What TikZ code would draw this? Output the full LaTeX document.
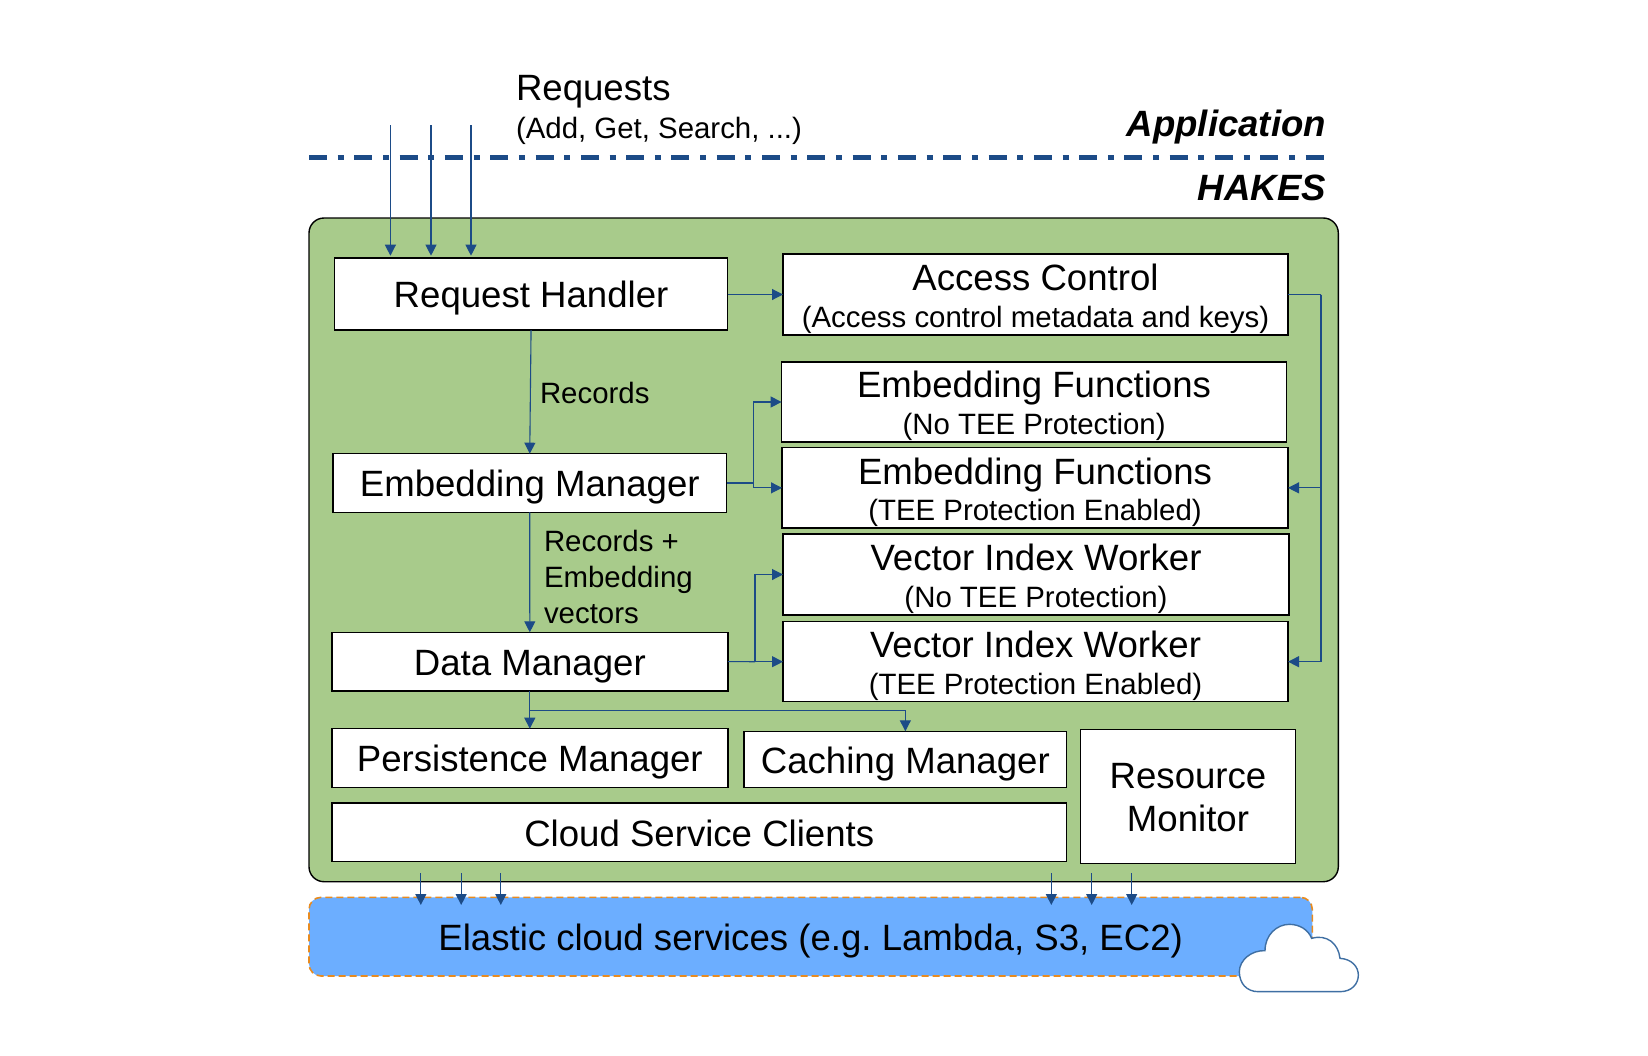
\documentclass[tikz,border=0pt]{standalone}
\usepackage{fontspec}
\setmainfont{Liberation Sans}
\usetikzlibrary{arrows.meta}
\definecolor{greenbg}{HTML}{A8CB8B}
\definecolor{bluebg}{HTML}{6CAEFF}
\definecolor{linkblue}{HTML}{1C4B87}
\definecolor{dashorange}{HTML}{E88B1F}
\definecolor{cloudline}{HTML}{3F6FA3}
\newcommand{\bigfont}{\frenchspacing\fontsize{36.6}{40}\selectfont}
\newcommand{\smallfont}{\frenchspacing\fontsize{29.4}{36}\selectfont}
\newcommand{\mainln}[2]{\makebox[0pt][c]{\raisebox{-1pt}[0pt][0pt]{\raisebox{-#1pt}[0pt][0pt]{\bigfont #2}}}}
\newcommand{\subln}[2]{\makebox[0pt][c]{\raisebox{-1pt}[0pt][0pt]{\raisebox{-#1pt}[0pt][0pt]{\smallfont #2}}}}
\newcommand{\pbox}[6]{%
  \pgfmathsetmacro{\pbw}{#4-#2}\pgfmathsetmacro{\pbh}{#5-#3}%
  \pgfmathsetmacro{\pbx}{(#4+#2)/2}\pgfmathsetmacro{\pby}{(#5+#3)/2}%
  \node[compbox,minimum width=\pbw pt,minimum height=\pbh pt] (#1) at (\pbx,\pby) {#6};}
\tikzset{
  compbox/.style={draw=black,line width=1.4pt,fill=white,inner sep=0pt,outer sep=0pt},
  arr/.style={draw=linkblue,line width=1.1pt,-{Triangle[length=11pt,width=11pt]}},
  plainlink/.style={draw=linkblue,line width=1.1pt},
  freetext/.style={anchor=base west,inner sep=0pt,outer sep=0pt},
  righttext/.style={anchor=base east,inner sep=0pt,outer sep=0pt}
}
\begin{document}
\begin{tikzpicture}[x=1pt,y=-1pt]
\useasboundingbox (0,0) rectangle (1648,1055);
% containers
\node[draw=black,line width=1.4pt,fill=greenbg,rounded corners=15pt,minimum width=1029.3pt,minimum height=663.7pt,inner sep=0pt,outer sep=0pt] (hakes) at (823.65,549.85) {};
\node[draw=dashorange,line width=1.6pt,dash pattern=on 7pt off 4pt,fill=bluebg,rounded corners=12pt,minimum width=1003.3pt,minimum height=78.7pt,inner sep=0pt,outer sep=0pt] (elastic) at (810.65,936.65) {\mainln{12.4}{Elastic cloud services (e.g. Lambda, S3, EC2)}};
% cloud
\begin{scope}[shift={(1000,780)},x=0.33333pt,y=-0.33333pt]
\draw[draw=cloudline,line width=1.4pt,fill=white] (775,635) .. controls (740,635) and (718,610) .. (718,575) .. controls (718,540) and (755,510) .. (795,512) .. controls (795,465) and (830,433) .. (868,433) .. controls (900,433) and (925,450) .. (935,475) .. controls (980,462) and (1015,490) .. (1020,535) .. controls (1055,537) and (1075,560) .. (1075,585) .. controls (1075,612) and (1055,635) .. (1020,635) -- cycle;
\end{scope}
% boxes
\pbox{rh}{334.6}{258}{727.5}{330}{\mainln{12.7}{Request Handler}}
\pbox{ac}{783}{254}{1288}{335}{\mainln{-5.2}{Access Control}\subln{32.2}{(Access control metadata and keys)}}
\pbox{efn}{781.6}{362}{1286.5}{442}{\mainln{-5.3}{Embedding Functions}\subln{31.3}{(No TEE Protection)}}
\pbox{eft}{782}{447.7}{1288}{528}{\mainln{-4.5}{Embedding Functions}\subln{32}{(TEE Protection Enabled)}}
\pbox{vin}{783}{534}{1289}{615}{\mainln{-5.5}{Vector Index Worker}\subln{32}{(No TEE Protection)}}
\pbox{vit}{783}{621.7}{1288}{701.7}{\mainln{-5}{Vector Index Worker}\subln{31.6}{(TEE Protection Enabled)}}
\pbox{em}{333}{453.7}{726.5}{512.3}{\mainln{12.5}{Embedding Manager}}
\pbox{dm}{331.8}{632.3}{727.8}{691}{\mainln{12.6}{Data Manager}}
\pbox{pm}{331.8}{728.7}{727.8}{787.3}{\mainln{12.7}{Persistence Manager}}
\pbox{cm}{744}{731.3}{1066.7}{787.3}{\mainln{13.4}{Caching Manager}}
\pbox{cs}{331.8}{803}{1066.7}{861.7}{\mainln{13.4}{Cloud Service Clients}}
\pbox{rm}{1080.7}{729.4}{1295.3}{863.3}{\mainln{-9.3}{Resource}\mainln{34.3}{Monitor}}
% boundary line and labels
\coordinate (bl) at (309,157.7);
\coordinate (br) at (1326,157.7);
\draw[draw=linkblue,line width=4.5pt,dash pattern=on 18pt off 10.7pt on 6pt off 10.6pt] (bl) -- (br);
\node[freetext,font=\bigfont] (req) at (516,100.5) {Requests};
\node[freetext,font=\smallfont] (reqs) at (516,138) {(Add, Get, Search, ...)};
\node[righttext,font=\bigfont\bfseries\itshape] (app) at (1326,136) {Application};
\node[righttext,font=\bigfont\bfseries\itshape] (hk) at (1326,200) {HAKES};
% request arrows
\foreach \n/\px in {r1/390.4,r2/431,r3/471}{
  \coordinate (\n) at (\px,125);
  \draw[arr] (\n) -- ([yshift=2.3pt]\n |- rh.north);
}
% horizontal links
\draw[arr] (rh.east |- ac.west) -- (ac.west);
\coordinate (j1) at (753.5,483);
\draw[plainlink] (em.east) -- (j1);
\draw[arr] (j1) |- (efn.west);
\draw[arr] (j1) |- (eft.west);
\coordinate (j2) at (755,661.7);
\draw[plainlink] (dm.east) -- (j2);
\draw[arr] (j2) |- (vin.west);
\draw[arr] (j2) -- (vit.west);
\coordinate (j3) at (1321,294.5);
\draw[plainlink] (ac.east) -- (j3);
\draw[arr] (j3) |- (eft.east);
\draw[arr] (j3) |- (vit.east);
% vertical links
\draw[arr] (rh.south) -- (em.north);
\draw[arr] (em.south) -- (dm.north);
\draw[arr] (dm.south) -- (pm.north);
\coordinate (j5) at (529.8,710.7);
\draw[arr] (j5) -| (cm.north);
% labels
\node[freetext,font=\smallfont] (l1) at (540,403) {Records};
\node[freetext,font=\smallfont] (l2) at (544,551) {Records +};
\node[freetext,font=\smallfont] (l3) at (544,587) {Embedding};
\node[freetext,font=\smallfont] (l4) at (544,623) {vectors};
% cloud service arrows
\foreach \n/\px in {c1/420.8,c2/461.2,c3/500.8,c4/1051.3,c5/1091.7,c6/1131.7}{
  \coordinate (\n s) at (\px,873);
  \coordinate (\n e) at (\px,905);
  \draw[arr] (\n s) -- (\n e);
}
\end{tikzpicture}
\end{document}
